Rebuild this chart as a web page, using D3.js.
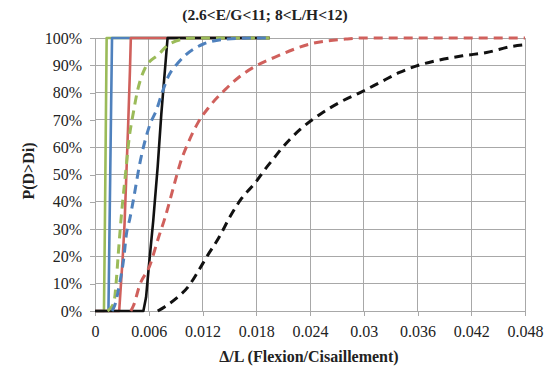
<!DOCTYPE html>
<html><head><meta charset="utf-8">
<script src="https://cdn.jsdelivr.net/npm/d3@7"></script>
<style>body{margin:0;background:#fff}svg{display:block}
svg text{font-family:"Liberation Serif","Times New Roman",Times,serif !important}</style>
</head><body><svg id="c" width="548" height="372"></svg>
<script>
const xTicks = [0, 0.006, 0.012, 0.018, 0.024, 0.03, 0.036, 0.042, 0.048];
const xTickLabels = ["0","0.006","0.012","0.018","0.024","0.03","0.036","0.042","0.048"];
const yTicks = [0,10,20,30,40,50,60,70,80,90,100];
const yTickLabels = ["0%","10%","20%","30%","40%","50%","60%","70%","80%","90%","100%"];

const greenSolidX = [0, 0.0010, 0.0011, 0.0012, 0.0013, 0.0195];
const greenSolidY = [0, 0, 30, 65, 100, 100];
const blueSolidX = [0, 0.0015, 0.0016, 0.0017, 0.0018, 0.0019, 0.0195];
const blueSolidY = [0, 0, 25, 50, 75, 100, 100];
const redSolidX = [0, 0.0027, 0.0029, 0.0031, 0.0033, 0.0035, 0.0037, 0.0039, 0.0040, 0.0195];
const redSolidY = [0, 0, 10, 20, 32, 50, 68, 88, 100, 100];
const blackSolidX = [0, 0.0054, 0.0057, 0.0060, 0.0065, 0.0070, 0.0074, 0.0078, 0.0081, 0.0195];
const blackSolidY = [0, 0, 5, 16, 33, 53, 72, 88, 100, 100];

const greenDashX = [0.0014, 0.0021, 0.0024, 0.0026, 0.0030, 0.0034, 0.0038, 0.0043, 0.0047, 0.0056, 0.0071, 0.0084, 0.011, 0.0195];
const greenDashY = [0, 3, 12, 21, 37, 50, 63, 73, 80, 89, 94, 98, 100, 100];
const blueDashX = [0.0019, 0.0022, 0.0028, 0.0032, 0.0035, 0.0039, 0.0043, 0.0050, 0.0061, 0.0069, 0.0074, 0.0082, 0.0093, 0.0102, 0.0121, 0.0147, 0.018, 0.0195];
const blueDashY = [0, 2, 11, 19, 28, 34, 41, 54, 68, 74, 79, 86, 91, 94, 97.8, 99.6, 100, 100];
const redDashX = [0.0040, 0.0043, 0.0050, 0.0061, 0.0071, 0.0078, 0.0089, 0.0095, 0.0104, 0.0115, 0.0128, 0.0145, 0.0162, 0.0181, 0.0201, 0.024, 0.028, 0.030, 0.048];
const redDashY = [0, 2, 9.6, 16.5, 27, 34, 47, 54, 61.6, 69, 75, 81, 86, 90, 93, 97.8, 99.6, 100, 100];
const blackDashX = [0.0070, 0.0078, 0.0091, 0.0104, 0.0114, 0.0125, 0.0138, 0.0151, 0.0164, 0.0179, 0.0190, 0.0201, 0.0207, 0.0229, 0.0251, 0.0273, 0.0296, 0.0318, 0.034, 0.0359, 0.0381, 0.0411, 0.0437, 0.0467, 0.048];
const blackDashY = [0, 1.6, 4.7, 8.9, 13.9, 20, 26.7, 34.7, 41.4, 47, 52, 56.5, 59, 66.5, 72, 76.4, 80, 83.7, 87.4, 89.8, 91.7, 93.5, 94.7, 97, 97.5];

const series = [
  {x: greenSolidX, y: greenSolidY, color: "#9bbb59", dash: null},
  {x: blueSolidX, y: blueSolidY, color: "#4f81bd", dash: null},
  {x: redSolidX, y: redSolidY, color: "#d0605c", dash: null},
  {x: blackSolidX, y: blackSolidY, color: "#111", dash: null},
  {x: greenDashX, y: greenDashY, color: "#9bbb59", dash: "9,6"},
  {x: blueDashX, y: blueDashY, color: "#4f81bd", dash: "9,6"},
  {x: redDashX, y: redDashY, color: "#d0605c", dash: "9,6"},
  {x: blackDashX, y: blackDashY, color: "#111", dash: "9,6"}
];

const svg = d3.select("#c");
const L = 95, R = 525, T = 38, B = 311;
const x = d3.scaleLinear().domain([0, 0.048]).range([L, R]);
const y = d3.scaleLinear().domain([0, 100]).range([B, T]);
const grid = "#a8a8a8";

svg.append("g").selectAll("line").data(yTicks.slice(1)).join("line")
  .attr("x1", L).attr("x2", R).attr("y1", d => y(d)).attr("y2", d => y(d))
  .attr("stroke", grid).attr("stroke-width", 1).attr("shape-rendering","crispEdges");
svg.append("g").selectAll("line").data(xTicks.slice(1)).join("line")
  .attr("x1", d => x(d)).attr("x2", d => x(d)).attr("y1", T).attr("y2", B)
  .attr("stroke", grid).attr("stroke-width", 1).attr("shape-rendering","crispEdges");

const xAxis = d3.axisBottom(x).tickValues(xTicks).tickFormat((d,i) => xTickLabels[i]).tickSize(5).tickPadding(6);
const yAxis = d3.axisLeft(y).tickValues(yTicks).tickFormat((d,i) => yTickLabels[i]).tickSize(5).tickPadding(8);
const gx = svg.append("g").attr("transform", `translate(0,${B})`).call(xAxis);
const gy = svg.append("g").attr("transform", `translate(${L},0)`).call(yAxis);
[gx, gy].forEach(g => {
  g.attr("font-size", 16);
  g.select(".domain").attr("stroke", grid).attr("shape-rendering","crispEdges");
  g.selectAll(".tick line").attr("stroke", grid).attr("shape-rendering","crispEdges");
  g.selectAll("text").attr("font-size", 16).attr("fill", "#222");
});
gx.selectAll("text").attr("dy", "0.95em");

series.forEach(s => {
  const pts = s.x.map((v, i) => [v, s.y[i]]);
  const line = d3.line().x(d => x(d[0])).y(d => y(d[1]))
    .curve(s.dash ? d3.curveMonotoneX : d3.curveLinear);
  svg.append("path").attr("d", line(pts)).attr("fill", "none")
    .attr("stroke", s.color).attr("stroke-width", s.dash ? 3 : 2.6)
    .attr("stroke-dasharray", s.dash).attr("stroke-linejoin", "round");
});

svg.append("text").attr("x", 265).attr("y", 20).attr("text-anchor", "middle")
  .attr("font-weight", "bold").attr("font-size", 15.5).attr("fill", "#222")
  .text("(2.6<E/G<11; 8<L/H<12)");
svg.append("text").attr("x", 309).attr("y", 362).attr("text-anchor", "middle")
  .attr("font-weight", "bold").attr("font-size", 16).attr("fill", "#222")
  .text("Δ/L (Flexion/Cisaillement)");
svg.append("text").attr("transform", "translate(34,171) rotate(-90)").attr("text-anchor", "middle")
  .attr("font-weight", "bold").attr("font-size", 16).attr("fill", "#222")
  .text("P(D>Di)");
</script></body></html>
